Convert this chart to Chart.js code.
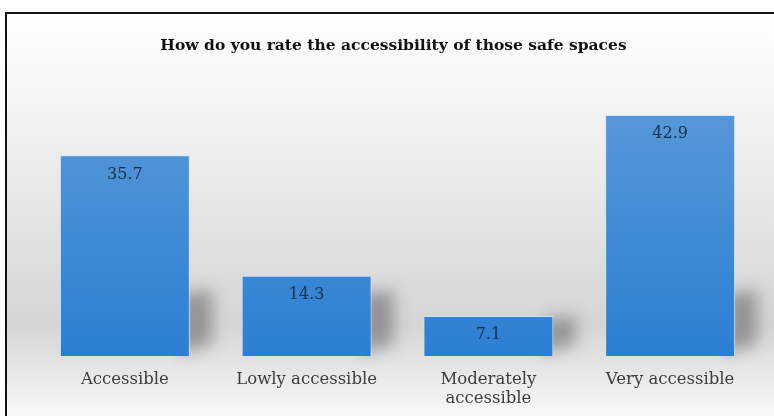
<!DOCTYPE html>
<html>
<head>
<meta charset="utf-8">
<script src="https://cdn.jsdelivr.net/npm/chart.js@4/dist/chart.umd.min.js"></script>
<style>
  html, body { margin: 0; padding: 0; background: #ffffff; }
  body { width: 774px; height: 416px; position: relative; overflow: hidden; }
  .frame {
    position: absolute; left: 5px; top: 12px; width: 800px; height: 440px;
    border: 2px solid #111; box-sizing: border-box;
    background: linear-gradient(to bottom, #fefefe 0px, #f8f8f8 60px, #ececec 150px, #dcdcdc 260px, #d5d5d5 310px, #e4e4e4 350px, #f6f6f6 395px, #ffffff 440px);
  }
  #wrap { position: absolute; left: 0; top: 0; width: 774px; height: 416px; }
</style>
</head>
<body>
<div class="frame"></div>
<div id="wrap"><canvas id="c" width="774" height="416"></canvas></div>
<script>
const titleText = "How do you rate the accessibility of those safe spaces";
const categories = [["Accessible"], ["Lowly accessible"], ["Moderately", "accessible"], ["Very accessible"]];
const values = [35.7, 14.3, 7.1, 42.9];
const yMax = 50;

const serif = '"DejaVu Serif", "Liberation Serif", serif';

const titlePlugin = {
  id: 'customTitle',
  afterDraw(chart) {
    const ctx = chart.ctx;
    const area = chart.chartArea;
    ctx.save();
    ctx.font = 'bold 15.5px ' + serif;
    ctx.fillStyle = '#111111';
    ctx.textAlign = 'center';
    ctx.textBaseline = 'middle';
    ctx.fillText(titleText, (area.left + area.right) / 2 - 4, 46);
    ctx.restore();
  }
};

// soft perspective shadow behind the lower right part of each bar
const shadowPlugin = {
  id: 'barShadow',
  beforeDatasetsDraw(chart) {
    const ctx = chart.ctx;
    const meta = chart.getDatasetMeta(0);
    ctx.save();
    ctx.filter = 'blur(8px)';
    ctx.fillStyle = 'rgba(40,40,40,0.38)';
    meta.data.forEach((bar) => {
      const right = bar.x + bar.width / 2;
      const h = bar.base - bar.y;
      const sh = Math.min(h * 0.9, 62);
      ctx.beginPath();
      ctx.moveTo(right - 10, bar.base - 2);
      ctx.lineTo(right - 10, bar.base - sh);
      ctx.lineTo(right + 22, bar.base - sh - 4);
      ctx.lineTo(right + 22, bar.base - 12);
      ctx.closePath();
      ctx.fill();
    });
    ctx.restore();
  }
};

const labelPlugin = {
  id: 'valueLabels',
  afterDatasetsDraw(chart) {
    const ctx = chart.ctx;
    const meta = chart.getDatasetMeta(0);
    ctx.save();
    ctx.font = '16px ' + serif;
    ctx.fillStyle = '#1c2f4a';
    ctx.textAlign = 'center';
    ctx.textBaseline = 'middle';
    meta.data.forEach((bar, i) => {
      ctx.fillText(values[i].toFixed(1), bar.x, bar.y + 19);
    });
    ctx.restore();
  }
};

const ctx = document.getElementById('c').getContext('2d');
new Chart(ctx, {
  type: 'bar',
  data: {
    labels: categories,
    datasets: [{
      data: values,
      backgroundColor(context) {
        const chart = context.chart;
        const area = chart.chartArea;
        if (!area) return '#3a88d4';
        const g = chart.ctx.createLinearGradient(0, area.top, 0, area.bottom);
        g.addColorStop(0, '#5d9bd8');
        g.addColorStop(1, '#2b7fd3');
        return g;
      },
      borderColor: 'rgba(205,228,250,0.9)',
      borderWidth: 1,
      categoryPercentage: 1.0,
      barPercentage: 0.715
    }]
  },
  options: {
    responsive: false,
    animation: false,
    events: [],
    layout: { padding: { left: 34, right: 13, top: 75, bottom: 0 } },
    plugins: {
      legend: { display: false },
      tooltip: { enabled: false },
      title: { display: false }
    },
    scales: {
      x: {
        grid: { display: false, drawTicks: false },
        border: { display: false },
        afterFit(scale) { scale.height = 60; },
        ticks: {
          color: '#3c3c3c',
          padding: 15,
          maxRotation: 0,
          autoSkip: false,
          font: { family: serif, size: 16.5, lineHeight: 1.1 }
        }
      },
      y: {
        display: false,
        min: 0,
        max: yMax
      }
    }
  },
  plugins: [shadowPlugin, labelPlugin, titlePlugin]
});
</script>
</body>
</html>
